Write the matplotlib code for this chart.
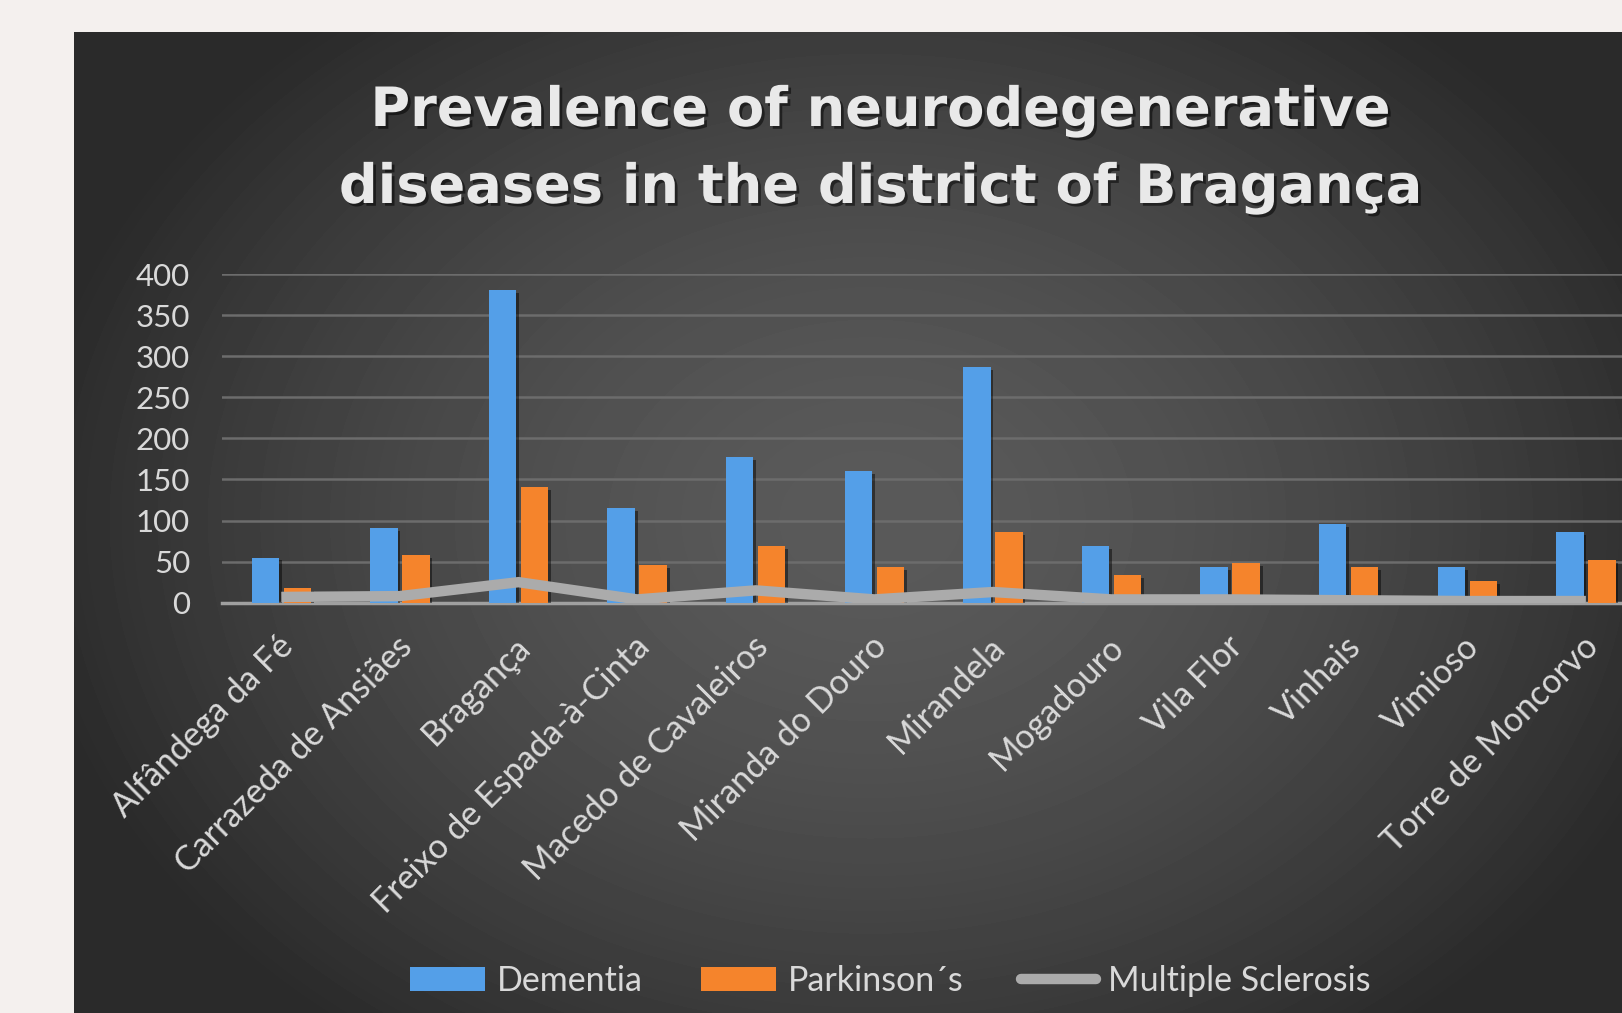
import numpy as np
import matplotlib.pyplot as plt
from matplotlib.patches import Patch
from matplotlib.lines import Line2D
import matplotlib.patheffects as pe
import matplotlib.transforms as mtransforms

# data
categories = ["Alfândega da Fé", "Carrazeda de Ansiães", "Bragança",
              "Freixo de Espada-à-Cinta", "Macedo de Cavaleiros",
              "Miranda do Douro", "Mirandela", "Mogadouro", "Vila Flor",
              "Vinhais", "Vimioso", "Torre de Moncorvo"]
dementia = [55, 91, 380, 115, 177, 160, 287, 69, 43, 96, 43, 86]
parkinson = [18, 58, 141, 46, 69, 43, 86, 34, 48, 43, 26, 52]
sclerosis = [7, 8, 25, 4, 15, 4, 13, 4, 4, 3, 2, 2]
series_names = ["Dementia", "Parkinson´s", "Multiple Sclerosis"]
y_ticks = list(range(0, 401, 50))

plt.rcParams["font.family"] = ["Lato", "DejaVu Sans"]

W, H = 1622, 1013
fig = plt.figure(figsize=(W / 100, H / 100), dpi=100, facecolor="#f4f0ee")

# dark panel with radial shading behind the chart
bg = fig.add_axes([0, 0, 1, 1], zorder=0)
bg.set_xlim(0, W)
bg.set_ylim(H, 0)
bg.axis("off")
yy, xx = np.mgrid[32:H, 74:W]
r = np.sqrt(((xx - 870) / 850.0) ** 2 + ((yy - 520) / 650.0) ** 2)
shade = 0x5a - (0x5a - 0x2a) * np.clip(r, 0, 1) ** 1.6
bg.imshow(shade, cmap="gray", vmin=0, vmax=255, extent=[74, W, H, 32],
          aspect="auto", interpolation="bilinear")

# plot area runs off the right edge like the reference
ax = fig.add_axes([222 / W, 1 - 602.7 / H, 12 * 118.6 / W, (602.7 - 274) / H], zorder=1)
ax.patch.set_alpha(0)

x = np.arange(len(categories))
w = 0.23
shadow = [pe.SimplePatchShadow(offset=(2, -2), shadow_rgbFace="black", alpha=0.45), pe.Normal()]
b1 = ax.bar(x - 0.135, dementia, w, color="#549fe8", zorder=2)
b2 = ax.bar(x + 0.135, parkinson, w, color="#f5842c", zorder=2)
for b in list(b1) + list(b2):
    b.set_path_effects(shadow)
ax.plot(x, sclerosis, color="#ababab", lw=7.5, solid_capstyle="butt",
        solid_joinstyle="miter", zorder=3)

ax.set_xlim(-0.5, 11.5)
ax.set_ylim(0, 400)
ax.set_yticks(y_ticks)
ax.yaxis.grid(True, color="#6c6c6c", lw=1.8)
ax.set_axisbelow(True)
for s in ["top", "right", "left"]:
    ax.spines[s].set_visible(False)
ax.spines["bottom"].set_color("#a0a0a0")
ax.spines["bottom"].set_linewidth(2.5)
ax.spines["bottom"].set_zorder(1)

ax.tick_params(axis="y", length=0, pad=23, labelsize=22.5, labelcolor="#d9d9d9")
ax.tick_params(axis="x", length=0, pad=28, labelsize=24.5, labelcolor="#d9d9d9")
ax.set_xticks(x)
ax.set_xticklabels(categories, rotation=45, ha="right", va="center", rotation_mode="anchor")
shift = mtransforms.ScaledTranslation(7 / 100, 0, fig.dpi_scale_trans)
for lab in ax.get_xticklabels():
    lab.set_transform(lab.get_transform() + shift)

# title, two centred lines
title_fx = 880 / W
tkw = dict(ha="center", va="baseline", fontsize=39, fontweight="bold", color="#e9e9e9",
           family=["DejaVu Sans"],
           path_effects=[pe.withSimplePatchShadow(offset=(2, -2), shadow_rgbFace="black", alpha=0.5)])
fig.text(title_fx, 1 - 126 / H, "Prevalence of neurodegenerative", **tkw)
fig.text(title_fx, 1 - 203 / H, "diseases in the district of Bragança", **tkw)

handles = [Patch(facecolor="#549fe8"), Patch(facecolor="#f5842c"),
           Line2D([], [], color="#ababab", lw=7.5, solid_capstyle="round")]
fig.legend(handles, series_names, loc="center", bbox_to_anchor=(0.549, 1 - 981 / H),
           ncol=3, frameon=False, fontsize=24.5, handlelength=2.2, handletextpad=0.35,
           columnspacing=1.7, labelcolor="#d9d9d9")

fig.savefig("out.png", dpi=100, facecolor=fig.get_facecolor())
